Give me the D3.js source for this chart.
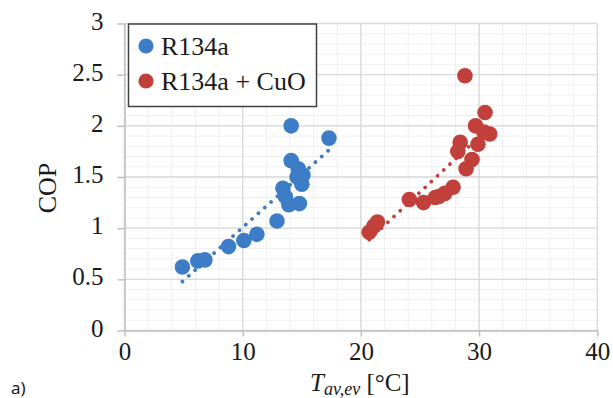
<!DOCTYPE html>
<html>
<head>
<meta charset="utf-8">
<script src="https://cdn.jsdelivr.net/npm/d3@7/dist/d3.min.js"></script>
<style>
  html, body { margin: 0; padding: 0; background: #fff; }
  svg { display: block; }
</style>
</head>
<body>
<svg id="chart" width="613" height="398"></svg>
<script>
// ---- data ----
const seriesNames = ["R134a", "R134a + CuO"];
const r134aX = [4.9, 6.2, 6.8, 8.8, 10.1, 11.2, 12.9, 13.4, 13.6, 13.9, 14.8, 14.1, 14.1, 14.7, 15.1, 14.6, 15.0, 17.3];
const r134aY = [0.62, 0.68, 0.69, 0.82, 0.88, 0.94, 1.07, 1.39, 1.31, 1.23, 1.24, 2.0, 1.66, 1.58, 1.52, 1.50, 1.43, 1.88];
const cuoX = [20.7, 21.1, 21.4, 24.1, 25.3, 26.3, 26.6, 27.1, 27.8, 28.4, 28.2, 29.4, 28.9, 28.8, 29.7, 29.9, 30.5, 30.9, 30.4];
const cuoY = [0.96, 1.02, 1.06, 1.28, 1.25, 1.30, 1.31, 1.34, 1.40, 1.84, 1.75, 1.67, 1.58, 2.49, 2.00, 1.82, 2.13, 1.92, 1.94];
const xTicks = [0, 10, 20, 30, 40];
const yTicks = [0, 0.5, 1, 1.5, 2, 2.5, 3];
const yTickLabels = ["0", "0.5", "1", "1.5", "2", "2.5", "3"];

// ---- layout ----
const colors = ["#3d7cc6", "#c2403b"];
const pLeft = 124.5, pRight = 597.3, pTop = 23.5, pBottom = 330.5;
const x = d3.scaleLinear().domain([0, 40]).range([pLeft, pRight]);
const y = d3.scaleLinear().domain([0, 3]).range([pBottom, pTop]);
const svg = d3.select("#chart");
const serif = "'Liberation Serif', 'Times New Roman', serif";

// minor gridlines
const g = svg.append("g");
g.selectAll(".vmin").data(d3.range(0, 41, 2)).join("line")
  .attr("x1", d => x(d)).attr("x2", d => x(d)).attr("y1", pTop).attr("y2", pBottom)
  .attr("stroke", "#efefef").attr("stroke-width", 1);
g.selectAll(".hmin").data(d3.range(0, 31, 1).map(d => d / 10)).join("line")
  .attr("x1", pLeft).attr("x2", pRight).attr("y1", d => y(d)).attr("y2", d => y(d))
  .attr("stroke", "#efefef").attr("stroke-width", 1);
// major gridlines
g.selectAll(".vmaj").data(xTicks).join("line")
  .attr("x1", d => x(d)).attr("x2", d => x(d)).attr("y1", pTop).attr("y2", pBottom)
  .attr("stroke", "#d9d9d9").attr("stroke-width", 1.3);
g.selectAll(".hmaj").data(yTicks).join("line")
  .attr("x1", pLeft).attr("x2", pRight).attr("y1", d => y(d)).attr("y2", d => y(d))
  .attr("stroke", "#d9d9d9").attr("stroke-width", 1.3);

// axes
const xAxis = svg.append("g").attr("transform", `translate(0,${pBottom})`)
  .call(d3.axisBottom(x).tickValues(xTicks).tickSizeInner(6).tickSizeOuter(0).tickPadding(6));
const yAxis = svg.append("g").attr("transform", `translate(${pLeft},0)`)
  .call(d3.axisLeft(y).tickValues(yTicks).tickFormat((d, i) => yTickLabels[i]).tickSizeInner(7).tickSizeOuter(0).tickPadding(14));
[xAxis, yAxis].forEach(a => {
  a.select(".domain").attr("stroke", "#bfbfbf").attr("stroke-width", 1.5);
  a.selectAll(".tick line").attr("stroke", "#bfbfbf").attr("stroke-width", 1.5);
  a.selectAll("text").attr("font-family", serif).attr("font-size", 25).attr("fill", "#1a1a1a");
});
yAxis.selectAll("text").attr("dy", "0.22em");

// trendlines (least squares)
function fit(xs, ys) {
  const mx = d3.mean(xs), my = d3.mean(ys);
  let sxy = 0, sxx = 0;
  xs.forEach((v, i) => { sxy += (v - mx) * (ys[i] - my); sxx += (v - mx) * (v - mx); });
  const b = sxy / sxx, a = my - b * mx;
  const x0 = d3.min(xs), x1 = d3.max(xs);
  return [[x0, a + b * x0], [x1, a + b * x1]];
}
const series = [[r134aX, r134aY], [cuoX, cuoY]];
series.forEach(([xs, ys], i) => {
  const pts = fit(xs, ys);
  svg.append("path")
    .attr("d", d3.line().x(d => x(d[0])).y(d => y(d[1]))(pts))
    .attr("stroke", colors[i]).attr("stroke-width", 3.8)
    .attr("stroke-linecap", "round").attr("stroke-dasharray", "0.01 8.5")
    .attr("fill", "none");
});

// markers
series.forEach(([xs, ys], i) => {
  svg.append("g").selectAll("circle").data(xs.map((v, j) => [v, ys[j]])).join("circle")
    .attr("cx", d => x(d[0])).attr("cy", d => y(d[1])).attr("r", 7.8)
    .attr("fill", colors[i]);
});

// legend
const lg = svg.append("g");
lg.append("rect").attr("x", 128.5).attr("y", 24).attr("width", 188).attr("height", 82.5)
  .attr("fill", "#fff").attr("stroke", "#404040").attr("stroke-width", 1.5);
seriesNames.forEach((n, i) => {
  lg.append("circle").attr("cx", 146).attr("cy", 46 + i * 35).attr("r", 7.6).attr("fill", colors[i]);
  lg.append("text").attr("x", 161).attr("y", 55 + i * 35).text(n)
    .attr("font-family", serif).attr("font-size", 26).attr("fill", "#1a1a1a");
});

// axis titles
svg.append("text").attr("transform", "translate(56,188) rotate(-90)")
  .attr("text-anchor", "middle").attr("font-family", serif).attr("font-size", 26)
  .attr("fill", "#1a1a1a").text("COP");
const xt = svg.append("text").attr("x", x(20) - 1).attr("y", 391).attr("text-anchor", "middle")
  .attr("font-family", serif).attr("font-size", 25).attr("fill", "#1a1a1a");
xt.append("tspan").attr("font-style", "italic").text("T");
xt.append("tspan").attr("font-style", "italic").attr("font-size", 18).attr("dy", 4).text("av,ev");
xt.append("tspan").attr("dy", -4).text(" [°C]");

// panel label
svg.append("text").attr("x", 11).attr("y", 394).attr("font-family", "'Noto Sans', 'DejaVu Sans', sans-serif")
  .attr("font-size", 17).attr("fill", "#1a1a1a").text("a)");
</script>
</body>
</html>
